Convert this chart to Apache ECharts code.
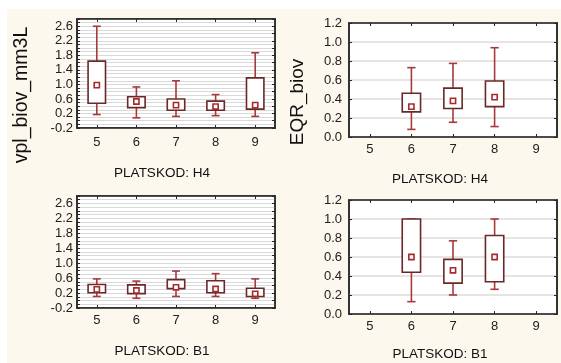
<!DOCTYPE html>
<html><head><meta charset="utf-8">
<script src="https://cdn.jsdelivr.net/npm/echarts@6/dist/echarts.min.js"></script>
<style>
html,body{margin:0;padding:0;background:#ffffff;}
#wrap{position:relative;width:561px;height:363px;background:#ffffff;}
#cream{position:absolute;left:7px;top:9px;width:554px;height:354px;background:#fcf8ee;}
#chart{position:absolute;left:0;top:0;width:561px;height:363px;}
</style></head>
<body>
<div id="wrap"><div id="cream"></div><div id="chart"></div></div>
<script>
// Categories (PLATSKOD sample number)
const categories = ['5','6','7','8','9'];
// Each row: [categoryIndex, min, q1, median, q3, max]
const vplH4 = [
  [0, 0.17, 0.48, 0.98, 1.64, 2.60],
  [1, 0.08, 0.36, 0.53, 0.66, 0.93],
  [2, 0.12, 0.29, 0.43, 0.60, 1.10],
  [3, 0.14, 0.29, 0.39, 0.54, 0.72],
  [4, 0.12, 0.32, 0.43, 1.18, 1.87]
];
const eqrH4 = [
  [1, 0.08, 0.265, 0.32, 0.46, 0.73],
  [2, 0.155, 0.30, 0.38, 0.515, 0.775],
  [3, 0.11, 0.32, 0.42, 0.59, 0.94]
];
const vplB1 = [
  [0, 0.11, 0.21, 0.30, 0.43, 0.58],
  [1, 0.06, 0.185, 0.27, 0.42, 0.52],
  [2, 0.11, 0.32, 0.355, 0.56, 0.79],
  [3, 0.11, 0.21, 0.31, 0.53, 0.72],
  [4, 0.06, 0.11, 0.18, 0.33, 0.58]
];
const eqrB1 = [
  [1, 0.13, 0.44, 0.60, 1.00, 1.00],
  [2, 0.20, 0.325, 0.46, 0.575, 0.77],
  [3, 0.26, 0.34, 0.60, 0.826, 1.00]
];
const vplTicks = [-0.2, 0.2, 0.6, 1.0, 1.4, 1.8, 2.2, 2.6];
const eqrTicks = [0.0, 0.2, 0.4, 0.6, 0.8, 1.0, 1.2];
const yTitleLeft = 'vpl_biov_mm3L';
const yTitleRight = 'EQR_biov';
const xTitles = ['PLATSKOD: H4', 'PLATSKOD: H4', 'PLATSKOD: B1', 'PLATSKOD: B1'];

const FONT = 'Liberation Sans, Arial, sans-serif';
const WHISK = '#a63a3c';
const BOXC = '#6a2828';
const SQ = '#a82a2c';
const LBL = '#202020';
const AX = '#262626';

const grids = [
  {left: 77, top: 19, width: 198, height: 109, backgroundColor: '#ffffff', show: true, borderColor: AX, borderWidth: 1.5},
  {left: 349, top: 23, width: 208, height: 114, backgroundColor: '#ffffff', show: true, borderColor: AX, borderWidth: 1.5},
  {left: 77, top: 196, width: 198, height: 112, backgroundColor: '#ffffff', show: true, borderColor: AX, borderWidth: 1.5},
  {left: 349, top: 200, width: 208, height: 114, backgroundColor: '#ffffff', show: true, borderColor: AX, borderWidth: 1.5}
];
const xMargins = [8, 6, 6, 6];

function near(v, list){ return list.some(t => Math.abs(t - v) < 1e-6); }

const xAxes = [], yAxes = [];
grids.forEach((g, i) => {
  xAxes.push({
    type: 'category', gridIndex: i, data: categories, boundaryGap: true,
    axisLine: {show: true, onZero: false, lineStyle: {color: AX, width: 1.5}},
    axisTick: {show: true, inside: true, alignWithLabel: true, length: 3, lineStyle: {color: AX}},
    axisLabel: {color: LBL, fontSize: 13, fontFamily: FONT, margin: xMargins[i]},
    splitLine: {show: false}
  });
  xAxes.push({
    type: 'category', gridIndex: i, data: categories, boundaryGap: true, position: 'top',
    axisLine: {show: true, onZero: false, lineStyle: {color: AX, width: 1.5}},
    axisTick: {show: true, inside: true, alignWithLabel: true, length: 3, lineStyle: {color: AX}},
    axisLabel: {show: false}, splitLine: {show: false}
  });
  const left = (i % 2 === 0);
  const ticks = left ? vplTicks : eqrTicks;
  const base = left
    ? {min: -0.2, max: 2.8, interval: 0.1}
    : {min: 0, max: 1.2, interval: 0.2};
  yAxes.push(Object.assign({
    type: 'value', gridIndex: i,
    axisLine: {show: true, onZero: false, lineStyle: {color: AX, width: 1.5}},
    axisTick: {show: true, inside: true, length: 3, lineStyle: {color: AX}},
    axisLabel: {
      color: LBL, fontSize: 13, fontFamily: FONT, margin: left ? 4 : 7,
      showMinLabel: true, showMaxLabel: true,
      formatter: v => near(v, ticks) ? (Math.round(v * 10) / 10).toFixed(1) : ''
    },
    splitLine: {show: true, lineStyle: {color: left ? '#d9d9d9' : '#dcdcdc', width: left ? 1 : 1.5}}
  }, base));
  yAxes.push(Object.assign({
    type: 'value', gridIndex: i, position: 'right',
    axisLine: {show: true, onZero: false, lineStyle: {color: AX, width: 1.5}},
    axisTick: {show: true, inside: true, length: 3, lineStyle: {color: AX}},
    axisLabel: {show: false}, splitLine: {show: false}
  }, left ? {min: -0.2, max: 2.8, interval: 0.2} : base));
});

function renderBox(params, api){
  const x = api.value(0);
  const pMin = api.coord([x, api.value(1)]);
  const pQ1 = api.coord([x, api.value(2)]);
  const pMed = api.coord([x, api.value(3)]);
  const pQ3 = api.coord([x, api.value(4)]);
  const pMax = api.coord([x, api.value(5)]);
  const bw = api.size([1, 0])[0];
  const hb = bw * 0.22, hc = bw * 0.1, hs = 2.6;
  const cx = pMed[0];
  return {type: 'group', children: [
    {type: 'line', shape: {x1: cx, y1: pMin[1], x2: cx, y2: pMax[1]}, style: {stroke: WHISK, lineWidth: 1.6}},
    {type: 'line', shape: {x1: cx - hc, y1: pMax[1], x2: cx + hc, y2: pMax[1]}, style: {stroke: WHISK, lineWidth: 1.6}},
    {type: 'line', shape: {x1: cx - hc, y1: pMin[1], x2: cx + hc, y2: pMin[1]}, style: {stroke: WHISK, lineWidth: 1.6}},
    {type: 'rect', shape: {x: cx - hb, y: pQ3[1], width: 2 * hb, height: pQ1[1] - pQ3[1]}, style: {fill: '#ffffff', stroke: BOXC, lineWidth: 1.6}},
    {type: 'rect', shape: {x: cx - hs, y: pMed[1] - hs, width: 2 * hs, height: 2 * hs}, style: {fill: '#ffffff', stroke: SQ, lineWidth: 1.6}}
  ]};
}

const datasets = [vplH4, eqrH4, vplB1, eqrB1];
const series = datasets.map((d, i) => ({
  type: 'custom', xAxisIndex: 2 * i, yAxisIndex: 2 * i, data: d,
  encode: {x: 0, y: [1, 2, 3, 4, 5]},
  renderItem: renderBox, clip: false, silent: true
}));

const titleStyle = (txt, size) => ({text: txt, fontSize: size, fontFamily: FONT, fill: '#111111',
  textAlign: 'center', textVerticalAlign: 'middle', align: 'center', verticalAlign: 'middle'});
const graphic = [
  {type: 'text', x: 22, y: 95, rotation: Math.PI / 2, style: titleStyle(yTitleLeft, 19.5)},
  {type: 'text', x: 298, y: 102, rotation: Math.PI / 2, style: titleStyle(yTitleRight, 19)},
  {type: 'text', x: 162, y: 173, style: titleStyle(xTitles[0], 13.5)},
  {type: 'text', x: 440, y: 179, style: titleStyle(xTitles[1], 13.5)},
  {type: 'text', x: 162, y: 351, style: titleStyle(xTitles[2], 13.5)},
  {type: 'text', x: 440, y: 354, style: titleStyle(xTitles[3], 13.5)}
];

const chart = echarts.init(document.getElementById('chart'), null, {renderer: 'canvas'});
chart.setOption({
  backgroundColor: 'transparent',
  animation: false,
  grid: grids,
  xAxis: xAxes,
  yAxis: yAxes,
  series: series,
  graphic: graphic
});
</script>
</body></html>
